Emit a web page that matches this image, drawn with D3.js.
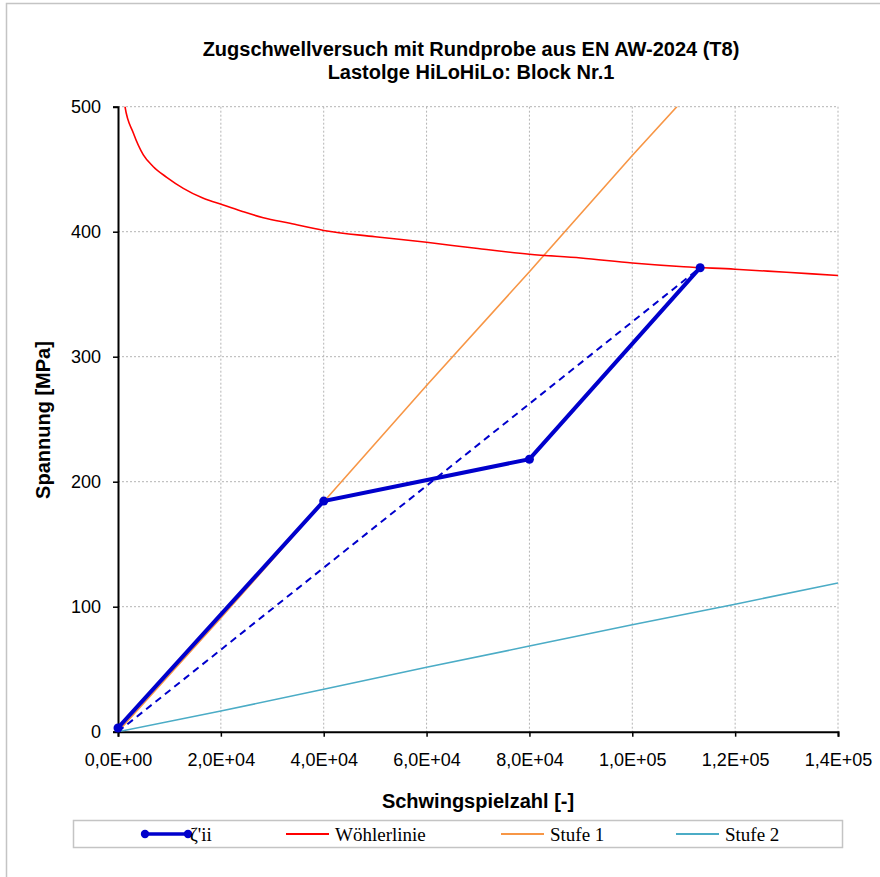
<!DOCTYPE html>
<html>
<head>
<meta charset="utf-8">
<script src="https://cdn.jsdelivr.net/npm/d3@7"></script>
<style>
  body { margin: 0; background: #fff; }
  svg { display: block; }
  .tick text { font-family: Arial, "Liberation Sans", sans-serif; font-size: 18px; fill: #000; }
</style>
</head>
<body>
<div id="chart"></div>
<script>
// series
const zetaN = [0, 40000, 80000, 113200];
const zetaS = [3, 184.5, 218, 371.2];

const dashN = [0, 113200];
const dashS = [0, 371.2];

const woehlerN = [1000, 1361, 2980, 4925, 6870, 9470, 12700, 16600, 20470, 24360, 28250, 33440, 40000,
  50000, 60000, 70000, 80000, 90000, 100000, 110000, 120000, 130000, 140000];
const woehlerS = [512, 500, 479, 461.5, 452, 443.5, 434.7, 426.7, 421.4, 416, 411.2, 406.7, 401,
  396, 391.5, 386.5, 382, 379, 375, 372, 370, 367.5, 365];

const stufe1N = [0, 20000, 40000, 60000, 80000, 100000, 110000];
const stufe1S = [0, 91, 184, 277, 368, 461, 506];

const stufe2N = [0, 20000, 40000, 60000, 80000, 100000, 120000, 140000];
const stufe2S = [0, 16.5, 34, 51.5, 68.5, 85.5, 102, 119];

const xTicks = [0, 20000, 40000, 60000, 80000, 100000, 120000, 140000];
const xTickLabels = ['0,0E+00', '2,0E+04', '4,0E+04', '6,0E+04', '8,0E+04', '1,0E+05', '1,2E+05', '1,4E+05'];
const yTicks = [0, 100, 200, 300, 400, 500];

const titleLines = ['Zugschwellversuch mit Rundprobe aus EN AW-2024 (T8)', 'Lastolge HiLoHiLo: Block Nr.1'];
const legendNames = ["ζ'ii", 'Wöhlerlinie', 'Stufe 1', 'Stufe 2'];

const W = 880, H = 877;
const margin = { top: 106.7, right: 42, bottom: 145.3, left: 118 };
const width = W - margin.left - margin.right;
const height = H - margin.top - margin.bottom;

const svgRoot = d3.select('#chart').append('svg')
  .attr('width', W)
  .attr('height', H);

svgRoot.append('rect')
  .attr('x', 6.5).attr('y', 3.5)
  .attr('width', W).attr('height', H)
  .attr('fill', '#fff')
  .attr('stroke', '#c4c4c4')
  .attr('stroke-width', 1.5);

// title
svgRoot.append('g').selectAll('text')
  .data(titleLines)
  .enter().append('text')
  .attr('x', 471)
  .attr('y', (d, i) => 56 + i * 22.5)
  .attr('text-anchor', 'middle')
  .attr('font-family', 'Arial, "Liberation Sans", sans-serif')
  .attr('font-weight', 'bold')
  .attr('font-size', '20px')
  .text(d => d);

const svg = svgRoot.append('g')
  .attr('transform', `translate(${margin.left},${margin.top})`);

const x = d3.scaleLinear().domain([0, 140000]).range([0, width]);
const y = d3.scaleLinear().domain([0, 500]).range([height, 0]);

// grid
svg.append('g').selectAll('line')
  .data(yTicks.filter(d => d > 0))
  .enter().append('line')
  .attr('x1', 0).attr('x2', width)
  .attr('y1', d => y(d)).attr('y2', d => y(d))
  .attr('stroke', '#b4b4b4').attr('stroke-width', 1)
  .attr('stroke-dasharray', '2,2');

svg.append('g').selectAll('line')
  .data(xTicks.filter(d => d > 0))
  .enter().append('line')
  .attr('y1', 0).attr('y2', height)
  .attr('x1', d => x(d)).attr('x2', d => x(d))
  .attr('stroke', '#b4b4b4').attr('stroke-width', 1)
  .attr('stroke-dasharray', '2,2');

// axes
const xAxis = d3.axisBottom(x).tickValues(xTicks)
  .tickFormat((d, i) => xTickLabels[i]).tickSize(5).tickPadding(13);
const yAxis = d3.axisLeft(y).tickValues(yTicks).tickSize(5).tickPadding(12);

const gx = svg.append('g')
  .attr('transform', `translate(0,${height})`)
  .call(xAxis);
const gy = svg.append('g').call(yAxis);
[gx, gy].forEach(g => {
  g.select('.domain').attr('stroke', '#000').attr('stroke-width', 2);
  g.selectAll('.tick line').attr('stroke', '#000').attr('stroke-width', 1.5);
});
gx.selectAll('.tick text').attr('dy', '0.92em');

svg.append('defs').append('clipPath').attr('id', 'plot-clip')
  .append('rect').attr('x', 0).attr('y', 0).attr('width', width).attr('height', height);

const plot = svg.append('g').attr('clip-path', 'url(#plot-clip)');

const line = d3.line().x(d => x(d[0])).y(d => y(d[1]));
const pairs = (ns, ss) => ns.map((n, i) => [n, ss[i]]);

plot.append('path')
  .datum(pairs(stufe2N, stufe2S))
  .attr('d', line)
  .attr('fill', 'none').attr('stroke', '#4bacc6').attr('stroke-width', 1.6);

plot.append('path')
  .datum(pairs(stufe1N, stufe1S))
  .attr('d', line)
  .attr('fill', 'none').attr('stroke', '#f79646').attr('stroke-width', 1.6);

plot.append('path')
  .datum(pairs(woehlerN, woehlerS))
  .attr('d', d3.line().curve(d3.curveMonotoneX).x(d => x(d[0])).y(d => y(d[1])))
  .attr('fill', 'none').attr('stroke', '#ff0000').attr('stroke-width', 1.6);

plot.append('path')
  .datum(pairs(dashN, dashS))
  .attr('d', line)
  .attr('fill', 'none').attr('stroke', '#0000cc').attr('stroke-width', 2)
  .attr('stroke-dasharray', '7,5');

svg.append('path')
  .datum(pairs(zetaN, zetaS))
  .attr('d', line)
  .attr('fill', 'none').attr('stroke', '#0000cc').attr('stroke-width', 4);

svg.append('g').selectAll('circle')
  .data(pairs(zetaN, zetaS))
  .enter().append('circle')
  .attr('cx', d => x(d[0])).attr('cy', d => y(d[1]))
  .attr('r', 4.5).attr('fill', '#0000cc');

// axis titles
svgRoot.append('text')
  .attr('x', 478).attr('y', 808)
  .attr('text-anchor', 'middle')
  .attr('font-family', 'Arial, "Liberation Sans", sans-serif')
  .attr('font-weight', 'bold').attr('font-size', '20px')
  .text('Schwingspielzahl [-]');

svgRoot.append('text')
  .attr('transform', 'translate(50,420) rotate(-90)')
  .attr('text-anchor', 'middle')
  .attr('font-family', 'Arial, "Liberation Sans", sans-serif')
  .attr('font-weight', 'bold').attr('font-size', '20px')
  .text('Spannung [MPa]');

// legend
const legend = svgRoot.append('g');
legend.append('rect')
  .attr('x', 73.5).attr('y', 820.5)
  .attr('width', 769).attr('height', 27)
  .attr('fill', '#fff').attr('stroke', '#c4c4c4').attr('stroke-width', 1.5);

const legendItems = [
  { x: 145, color: '#0000cc', w: 3.5, marker: true },
  { x: 286, color: '#ff0000', w: 2 },
  { x: 501, color: '#f79646', w: 2 },
  { x: 676, color: '#4bacc6', w: 2 }
];
legendItems.forEach((it, i) => {
  const g = legend.append('g');
  g.append('line')
    .attr('x1', it.x).attr('x2', it.x + 43)
    .attr('y1', 834).attr('y2', 834)
    .attr('stroke', it.color).attr('stroke-width', it.w);
  if (it.marker) {
    g.selectAll('circle').data([it.x, it.x + 43]).enter().append('circle')
      .attr('cx', d => d).attr('cy', 834).attr('r', 4.2).attr('fill', it.color);
  }
  g.append('text')
    .attr('x', it.x + (it.marker ? 45 : 49)).attr('y', 840.5)
    .attr('font-family', '"Liberation Serif", "Times New Roman", serif')
    .attr('font-size', '19px')
    .text(legendNames[i]);
});
</script>
</body>
</html>
